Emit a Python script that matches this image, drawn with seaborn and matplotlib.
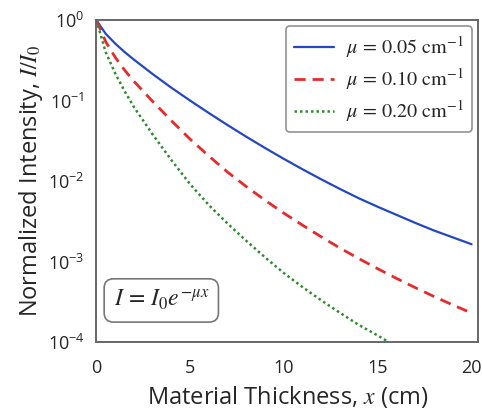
import numpy as np
import pandas as pd
import matplotlib
matplotlib.use("Agg")
import matplotlib.pyplot as plt
from matplotlib.ticker import MultipleLocator, NullLocator
import seaborn as sns

# values (log10 of I/I0)
thickness = [0, 0.5, 1, 1.5, 2, 3, 4, 5, 6, 7, 8, 9, 10, 11, 12, 13, 14, 15, 16, 17, 18, 19, 20]
log_mu005 = [0, -0.17, -0.29, -0.395, -0.49, -0.67, -0.84, -1.00, -1.155, -1.305, -1.45, -1.59,
             -1.725, -1.855, -1.98, -2.10, -2.215, -2.32, -2.42, -2.52, -2.615, -2.70, -2.785]
log_mu010 = [0, -0.27, -0.46, -0.62, -0.76, -1.01, -1.25, -1.48, -1.69, -1.89, -2.07, -2.24,
             -2.40, -2.55, -2.695, -2.835, -2.965, -3.09, -3.21, -3.325, -3.435, -3.54, -3.64]
log_mu020 = [0, -0.40, -0.66, -0.88, -1.08, -1.42, -1.74, -2.04, -2.30, -2.53, -2.745, -2.95,
             -3.145, -3.32, -3.485, -3.64, -3.79, -3.92, -4.06]

labels = [r"$\mu\,=\,0.05\ \mathrm{cm}^{-1}$", r"$\mu\,=\,0.10\ \mathrm{cm}^{-1}$",
          r"$\mu\,=\,0.20\ \mathrm{cm}^{-1}$"]
colors = ["#2447c4", "#e52b2b", "#2e8b2e"]

sns.set_style("white")
plt.rcParams["font.family"] = ["Open Sans", "DejaVu Sans"]
plt.rcParams["mathtext.fontset"] = "stix"

fig = plt.figure(figsize=(4.82, 4.12), dpi=100)
ax = fig.add_axes([0.200, 0.170, 0.792, 0.781])

series = [log_mu005, log_mu010, log_mu020]
styles = [dict(linestyle="-", linewidth=1.6),
          dict(linestyle=(0, (4, 2.5)), linewidth=2.0),
          dict(linestyle=(0, (1, 1.2)), linewidth=1.8)]
for vals, lab, col, st in zip(series, labels, colors, styles):
    df = pd.DataFrame({"x": thickness[:len(vals)], "I": 10.0 ** np.array(vals)})
    sns.lineplot(data=df, x="x", y="I", ax=ax, color=col, label=lab, **st)

ax.set_yscale("log")
ax.set_ylim(1e-4, 1)
ax.set_xlim(0, 20.35)
ax.xaxis.set_major_locator(MultipleLocator(5))
ax.xaxis.set_minor_locator(MultipleLocator(2.5))
ax.yaxis.set_minor_locator(NullLocator())
ax.tick_params(axis="both", which="major", direction="inout", length=7, width=1.0,
               color="#555555", labelsize=13)
ax.tick_params(axis="x", which="major", pad=9)
ax.tick_params(axis="y", which="major", pad=5)
ax.tick_params(axis="x", which="minor", direction="inout", length=4, width=0.8, color="#888888")
for s in ax.spines.values():
    s.set_color("#666666")
    s.set_linewidth(1.4)

ax.set_xlabel(r"Material Thickness, $x$ (cm)", fontsize=17, labelpad=5)
ax.set_ylabel(r"Normalized Intensity, $I/I_0$", fontsize=17, labelpad=2)

leg = ax.legend(loc="upper right", fontsize=14.5, frameon=True, fancybox=True,
                handlelength=2.0, handletextpad=0.6, borderaxespad=0.3, labelspacing=0.3)
leg.get_frame().set_edgecolor("#777777")
leg.get_frame().set_linewidth(1.2)

ax.text(0.17, 0.129, r"$I\,=\,I_0 e^{-\mu x}$", transform=ax.transAxes, fontsize=17,
        va="center", ha="center",
        bbox=dict(boxstyle="round,pad=0.4", facecolor="white", edgecolor="#777777", linewidth=1.2))

fig.savefig("out.png", dpi=100)
